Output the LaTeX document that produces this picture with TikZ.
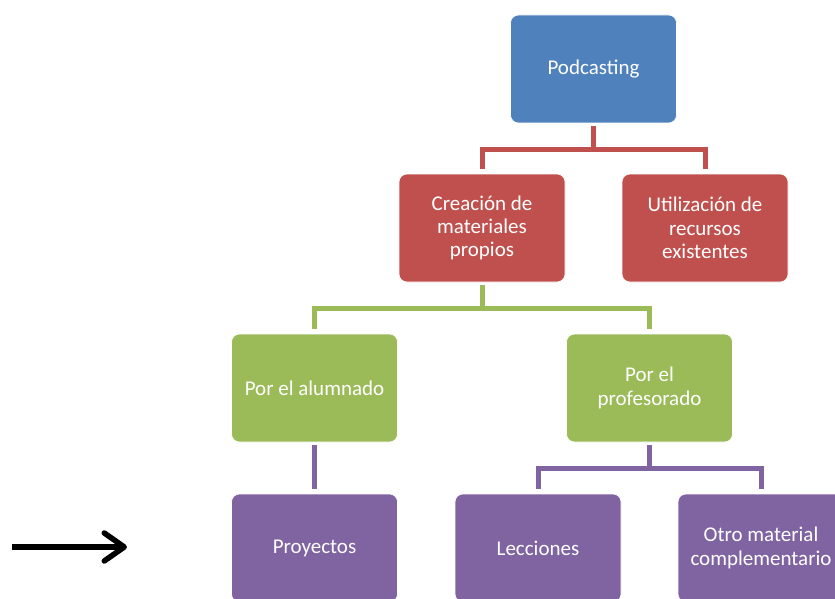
\documentclass[tikz,border=0pt]{standalone}
\usepackage{fontspec}
\setmainfont{Carlito}
\usetikzlibrary{calc}
\usetikzlibrary{arrows.meta}

\definecolor{podblue}{HTML}{4F81BD}
\definecolor{crimson}{HTML}{C0504D}
\definecolor{leaf}{HTML}{9BBB59}
\definecolor{grape}{HTML}{8064A2}

\begin{document}
\begin{tikzpicture}[x=1pt, y=-1pt,
    box/.style={rectangle, rounded corners=8pt, minimum width=166pt, minimum height=108pt,
      align=center, text=white, draw=white, line width=0.6pt, inner sep=0pt,
      font=\fontsize{21}{23.3}\selectfont},
    link/.style={line width=5pt, shorten <=3pt, shorten >=5pt}]
    \useasboundingbox (0,0) rectangle (835,599);

    \node [box, fill=podblue] (pod) at (593.5,69) {Podcasting};
    \node [box, fill=crimson] (cre) at (482,228) {Creación de\\materiales\\propios};
    \node [box, fill=crimson] (uti) at (705,228) {Utilización de\\recursos\\existentes};
    \node [box, fill=leaf] (alu) at (314.5,388) {Por el alumnado};
    \node [box, fill=leaf] (prof) at (649.5,388) {Por el\\profesorado};
    \node [box, fill=grape] (proy) at (314.5,548) {Proyectos};
    \node [box, fill=grape] (lec) at (538,548) {Lecciones};
    \node [box, fill=grape] (otro) at (761,548) {Otro material\\complementario};

    \draw [link, crimson] (pod.south) -- ++(0,26) -| (cre.north);
    \draw [link, crimson] (pod.south) -- ++(0,26) -| (uti.north);
    \draw [link, leaf] (cre.south) -- ++(0,26) -| (alu.north);
    \draw [link, leaf] (cre.south) -- ++(0,26) -| (prof.north);
    \draw [link, grape] (alu) -- (proy);
    \draw [link, grape] (prof.south) -- ++(0,26) -| (lec.north);
    \draw [link, grape] (prof.south) -- ++(0,26) -| (otro.north);

    \coordinate (tail) at (12,547);
    \coordinate (head) at (127,547);
    \draw [line width=5.5pt, -{Straight Barb[length=20pt, width=28pt, line cap=round, line join=round]}] (tail) -- (head);

\end{tikzpicture}
\end{document}
